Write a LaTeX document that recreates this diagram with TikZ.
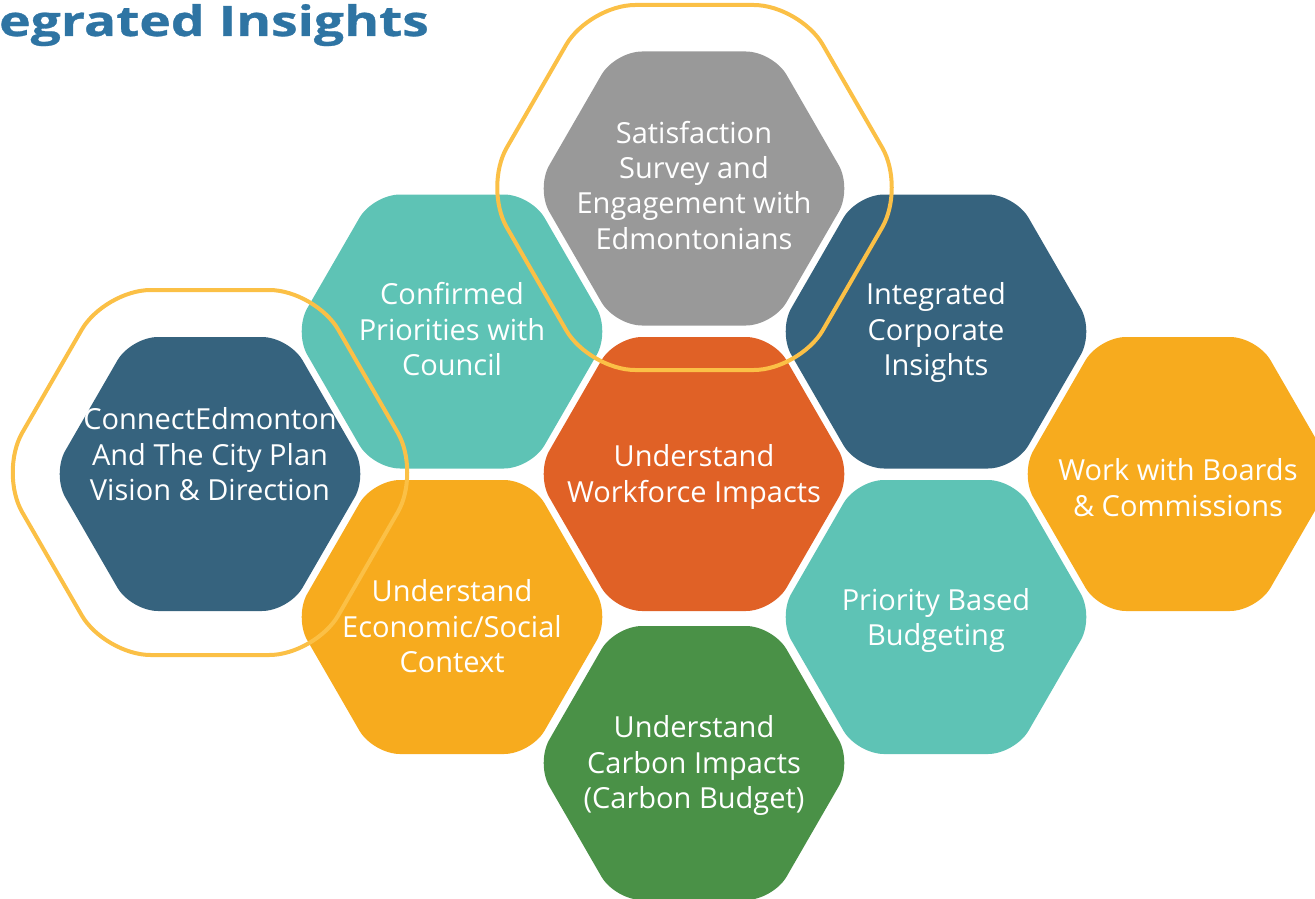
\documentclass[tikz,border=0pt]{standalone}
\usepackage{fontspec}
\setmainfont{Open Sans}
\definecolor{hgray}{HTML}{999999}
\definecolor{hteal}{HTML}{5EC3B5}
\definecolor{hblue}{HTML}{36637E}
\definecolor{hred}{HTML}{E06126}
\definecolor{hyellow}{HTML}{F7AB1E}
\definecolor{hgreen}{HTML}{4A9147}
\definecolor{hline}{HTML}{FBC046}
\definecolor{htitle}{HTML}{2E74A3}
\tikzset{
  hexfill/.style={fill=#1, draw=none, rounded corners=27pt},
  hexring/.style={draw=hline, line width=4pt, fill=none, rounded corners=46pt},
  hextext/.style={text=white, align=center, font=\fontsize{29}{35.3}\selectfont, inner sep=0pt, anchor=base},
  titletext/.style={text=htitle, font=\bfseries\fontsize{42}{44}\selectfont\addfontfeatures{FakeBold=0.7}, inner sep=0pt, anchor=base west}
}
\newcommand{\hexshape}[4]{%
  \pgfmathsetmacro\hh{#3}%
  \pgfmathsetmacro\hw{#3/0.8660254}%
  \pgfmathsetmacro\hq{#3/1.7320508}%
  \path[#4] (#1,#2-\hh) -- (#1+\hq,#2-\hh) -- (#1+\hw,#2) -- (#1+\hq,#2+\hh)
     -- (#1-\hq,#2+\hh) -- (#1-\hw,#2) -- (#1-\hq,#2-\hh) -- cycle;%
}
\begin{document}
\begin{tikzpicture}[x=1pt,y=-1pt]
\useasboundingbox (0,0) rectangle (1315,899);
\clip (0,0) rectangle (1315,899);
% filled hexagons
\hexshape{694}{188.5}{137}{hexfill=hgray}
\hexshape{694}{474}{137}{hexfill=hred}
\hexshape{694}{763}{137}{hexfill=hgreen}
\hexshape{452}{331.5}{137}{hexfill=hteal}
\hexshape{452}{617}{137}{hexfill=hyellow}
\hexshape{936}{331.5}{137}{hexfill=hblue}
\hexshape{936}{617}{137}{hexfill=hteal}
\hexshape{210}{474}{137}{hexfill=hblue}
\hexshape{1178}{474}{137}{hexfill=hyellow}
% texts (anchor = baseline of last line)
\node[hextext] (tsurvey) at (694,249) {Satisfaction\\Survey and\\Engagement with\\Edmontonians};
\node[hextext] (tpriorities) at (452,375.5) {Confirmed\\Priorities with\\Council};
\node[hextext] (tinsights) at (936,375.5) {Integrated\\Corporate\\Insights};
\node[hextext] (tworkforce) at (694,502) {Understand\\Workforce Impacts};
\node[hextext] (tconnect) at (210,500.5) {ConnectEdmonton\\And The City Plan\\Vision \& Direction};
\node[hextext] (tboards) at (1178,516) {Work with Boards\\\& Commissions};
\node[hextext] (teconomic) at (452,672.5) {Understand\\Economic/Social\\Context};
\node[hextext] (tbudget) at (936,645.5) {Priority Based\\Budgeting};
\node[hextext] (tcarbon) at (694,808.5) {Understand\\Carbon Impacts\\(Carbon Budget)};
% outline rings
\hexshape{694.5}{187.5}{182.5}{hexring}
\hexshape{210}{472.5}{182.5}{hexring}
\node[titletext] (title) at (-1,36) {\scalebox{1.27}[1]{egrated Insights}};
\end{tikzpicture}
\end{document}
